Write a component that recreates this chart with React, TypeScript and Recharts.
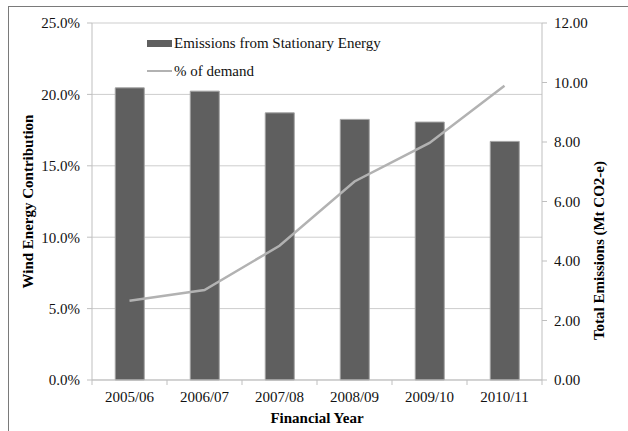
import React from 'react';
import { ComposedChart, Bar, Line, XAxis, YAxis, CartesianGrid, Label } from 'recharts';

const years = ['2005/06', '2006/07', '2007/08', '2008/09', '2009/10', '2010/11'];
// Mt CO2-e, right axis
const emissions = [9.82, 9.71, 8.98, 8.76, 8.67, 8.02];
// wind share of demand in %, left axis
const windShare = [5.55, 6.3, 9.4, 13.9, 16.6, 20.6];

const pctTicks = [0, 5, 10, 15, 20, 25];
const mtTicks = [0, 2, 4, 6, 8, 10, 12];

const FONT = "'Liberation Serif', 'Times New Roman', serif";
const BAR_FILL = '#5f5f5f';
const LINE_COLOR = '#b2b2b2';
const AXIS_COLOR = '#bfbfbf';

const data = years.map((year, i) => ({
  year,
  emissions: emissions[i],
  share: windShare[i]
}));

// x ticks: label under the category, tick marks on the category boundaries (Excel style)
function YearTick(props: any) {
  const { x, y, payload, index } = props;
  const half = payload.offset || 37.5;
  const axisY = y - 11;
  return <g>
      <line x1={x - half} y1={axisY} x2={x - half} y2={axisY + 5} stroke={AXIS_COLOR} />
      {index === years.length - 1 && <line x1={x + half} y1={axisY} x2={x + half} y2={axisY + 5} stroke={AXIS_COLOR} />}
      <text x={x} y={y} dy="0.71em" textAnchor="middle" fontFamily={FONT} fontSize={15} fill="#111">
        {payload.value}
      </text>
    </g>;
}

function SideTitle({ viewBox, text, cx, shift }: any) {
  const x = viewBox.x + cx;
  const y = viewBox.y + viewBox.height / 2 + shift;
  return <text x={x} y={y} transform={`rotate(-90, ${x}, ${y})`} textAnchor="middle" dominantBaseline="central" fontFamily={FONT} fontSize={15} fontWeight="bold" fill="#000">
      {text}
    </text>;
}

function BottomTitle({ viewBox }: any) {
  return <text x={viewBox.x + viewBox.width / 2} y={viewBox.y + 38} textAnchor="middle" dominantBaseline="central" fontFamily={FONT} fontSize={15} fontWeight="bold" fill="#000">
      Financial Year
    </text>;
}

function ChartLegend() {
  return <div style={{ position: 'absolute', left: 147, top: 29, fontFamily: FONT, fontSize: 15, color: '#111', lineHeight: '28px' }}>
      <div style={{ display: 'flex', alignItems: 'center' }}>
        <span style={{ width: 25, height: 7, background: BAR_FILL, marginRight: 2 }} />
        Emissions from Stationary Energy
      </div>
      <div style={{ display: 'flex', alignItems: 'center' }}>
        <span style={{ width: 25, height: 2.5, background: LINE_COLOR, marginRight: 2 }} />
        % of demand
      </div>
    </div>;
}

export default function App() {
  return <div style={{ position: 'absolute', left: 0, top: 0, width: 628, height: 431, overflow: 'hidden', background: '#fff' }}>
      <div style={{ position: 'absolute', left: 8, top: 6, width: 700, height: 500, borderLeft: '1px solid #7a7a7a', borderTop: '1px solid #7a7a7a' }} />
      <div style={{ position: 'absolute', left: 0, top: 0 }}>
        <ComposedChart width={628} height={431} data={data} margin={{ top: 23, right: 0, bottom: 0, left: 0 }} barCategoryGap="31%">
          <CartesianGrid yAxisId="left" vertical={false} stroke="#cdcdcd" />
          <XAxis dataKey="year" height={51} axisLine={{ stroke: AXIS_COLOR }} tickLine={false} tickSize={5} tickMargin={6} tick={<YearTick />} interval={0}>
            <Label content={<BottomTitle />} />
          </XAxis>
          <YAxis yAxisId="left" orientation="left" width={92} domain={[0, 25]} ticks={pctTicks} tickFormatter={(v: number) => `${v.toFixed(1)}%`} axisLine={{ stroke: AXIS_COLOR }} tickLine={{ stroke: AXIS_COLOR }} tickSize={5} tickMargin={7} tick={{ fontFamily: FONT, fontSize: 15, fill: '#111' }}>
            <Label content={<SideTitle text="Wind Energy Contribution" cx={28} shift={0} />} />
          </YAxis>
          <YAxis yAxisId="right" orientation="right" width={86} domain={[0, 12]} ticks={mtTicks} tickFormatter={(v: number) => v.toFixed(2)} axisLine={{ stroke: AXIS_COLOR }} tickLine={{ stroke: AXIS_COLOR }} tickSize={5} tickMargin={7} tick={{ fontFamily: FONT, fontSize: 15, fill: '#111' }}>
            <Label content={<SideTitle text="Total Emissions (Mt CO2-e)" cx={57} shift={49} />} />
          </YAxis>
          <Bar yAxisId="right" dataKey="emissions" name="Emissions from Stationary Energy" fill={BAR_FILL} stroke="#a3a3a3" strokeWidth={1} isAnimationActive={false} />
          <Line yAxisId="left" dataKey="share" name="% of demand" type="linear" stroke={LINE_COLOR} strokeWidth={2.5} dot={false} activeDot={false} isAnimationActive={false} />
        </ComposedChart>
      </div>
      <ChartLegend />
    </div>;
}
